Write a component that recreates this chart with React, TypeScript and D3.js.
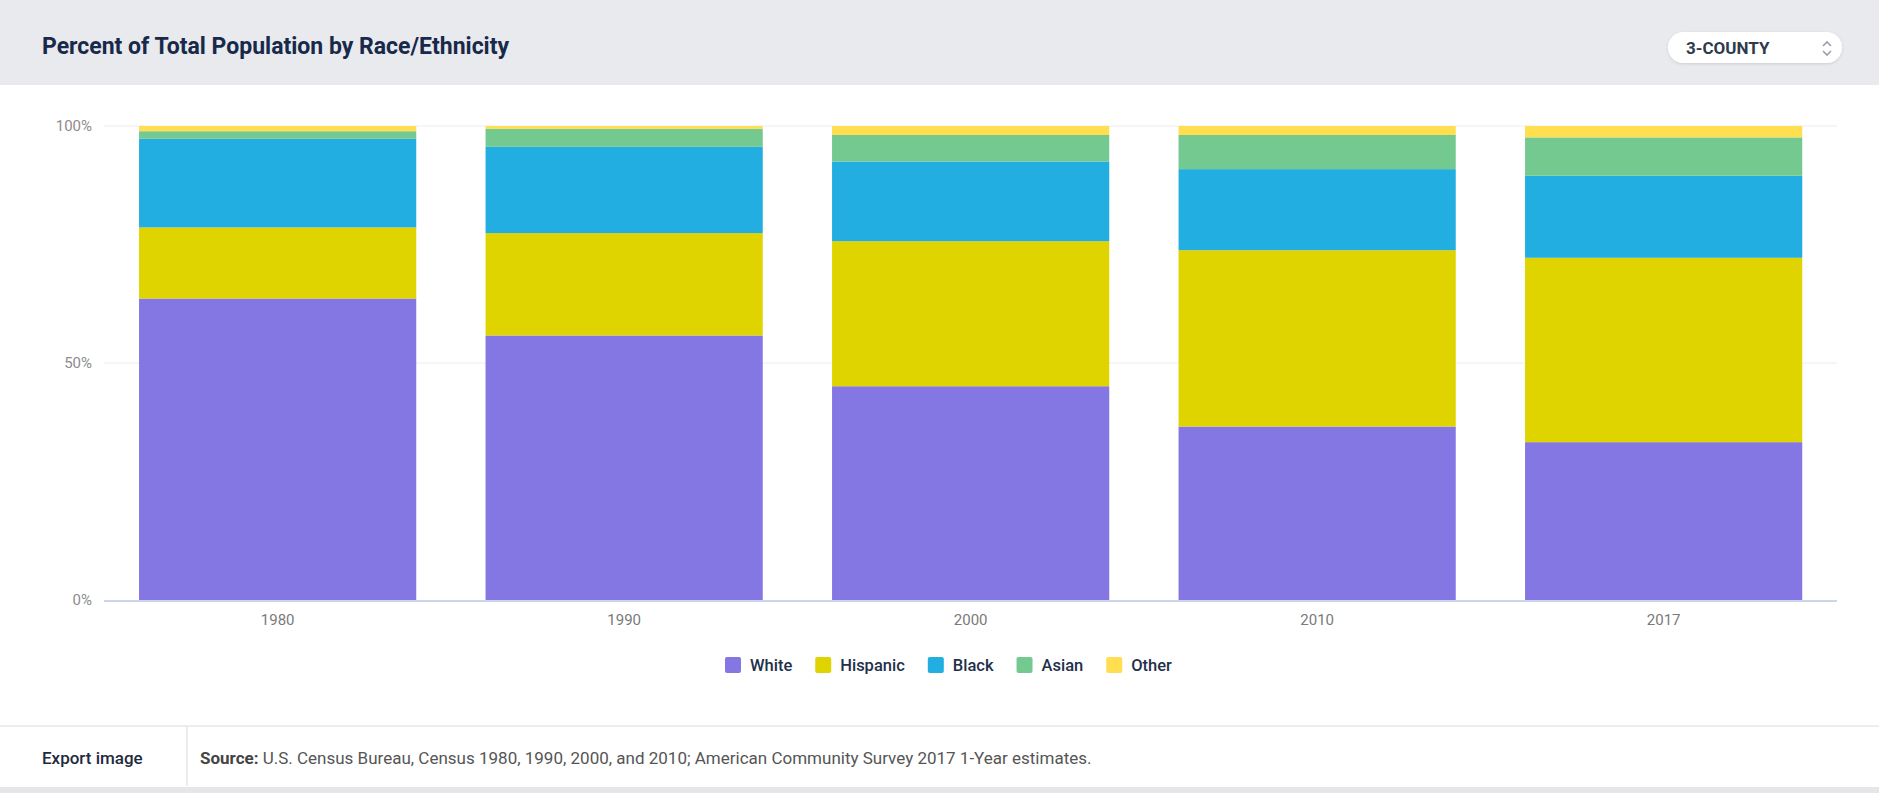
import React from 'react';
import * as d3 from 'd3';

const years = ['1980', '1990', '2000', '2010', '2017'];
const seriesNames = ['White', 'Hispanic', 'Black', 'Asian', 'Other'];
const white = [63.6, 55.8, 45.1, 36.6, 33.3];
const hispanic = [15.0, 21.6, 30.6, 37.2, 38.9];
const black = [18.7, 18.2, 16.8, 17.1, 17.3];
const asian = [1.6, 3.8, 5.6, 7.2, 8.1];
const other = [1.1, 0.6, 1.9, 1.9, 2.4];
const seriesColors = ['#8477e4', '#e0d400', '#22aee0', '#74c991', '#ffde4f'];
const yTicks = [0, 50, 100];
const yTickLabels = ['0%', '50%', '100%'];

const W = 1879;
const H = 793;
const FONT = 'Roboto, "Noto Sans", Arial, sans-serif';

function measure(text: string, font: string): number {
  if (typeof document === 'undefined') return text.length * 8;
  const c = document.createElement('canvas');
  const ctx = c.getContext('2d');
  if (!ctx) return text.length * 8;
  ctx.font = font;
  return ctx.measureText(text).width;
}

export default function App() {
  const rows = years.map((yr, i) => ({
    year: yr,
    White: white[i],
    Hispanic: hispanic[i],
    Black: black[i],
    Asian: asian[i],
    Other: other[i],
  }));
  const stack = d3.stack<any>().keys(seriesNames);
  const layers = stack(rows);

  const x = d3
    .scaleBand<string>()
    .domain(years)
    .range([104.4, 1836.9])
    .paddingInner(0.2)
    .paddingOuter(0.1);
  const y = d3.scaleLinear().domain([0, 100]).range([600, 126]);
  const color = d3.scaleOrdinal<string, string>().domain(seriesNames).range(seriesColors);

  // legend layout
  const legendSize = 16.5;
  const legendFont = `500 ${legendSize}px Roboto`;
  const sq = 16;
  const gapSqText = 9;
  const gapItems = 23;
  let lx = 725;
  const legendItems = seriesNames.map((name) => {
    const w = measure(name, legendFont);
    const item = { name, x: lx, w };
    lx += sq + gapSqText + w + gapItems;
    return item;
  });

  return (
    <svg
      width={W}
      height={H}
      style={{ position: 'fixed', left: 0, top: 0, background: '#fff' }}
      fontFamily={FONT}
    >
      {/* header */}
      <rect x={0} y={0} width={W} height={85} fill="#e9eaee" />
      <text x={42} y={54} fontSize={23} fontWeight={700} fill="#18294a">
        Percent of Total Population by Race/Ethnicity
      </text>
      <defs>
        <filter id="sh" x="-10%" y="-30%" width="120%" height="160%">
          <feDropShadow dx="0" dy="1" stdDeviation="1.5" floodColor="#000" floodOpacity="0.12" />
        </filter>
      </defs>
      <rect x={1668} y={32} width={174} height={31} rx={15.5} fill="#fff" filter="url(#sh)" />
      <text x={1686} y={54} fontSize={17} fontWeight={700} fill="#2f3a4d">
        3-COUNTY
      </text>
      <path d="M1823,46 L1827,42 L1831,46" fill="none" stroke="#9aa0a8" strokeWidth={1.6} />
      <path d="M1823,51 L1827,55 L1831,51" fill="none" stroke="#9aa0a8" strokeWidth={1.6} />

      {/* gridlines */}
      {yTicks.slice(1).map((t) => (
        <line key={t} x1={104} x2={1837} y1={y(t)} y2={y(t)} stroke="#ececec" strokeWidth={1} />
      ))}
      {/* y tick labels */}
      {yTicks.map((t, i) => (
        <text
          key={t}
          x={92}
          y={y(t) + 5}
          textAnchor="end"
          fontSize={15}
          fill="#8c8c8c"
        >
          {yTickLabels[i]}
        </text>
      ))}

      {/* bars */}
      {layers.map((layer) => (
        <g key={layer.key} fill={color(layer.key)}>
          {layer.map((d: any) => (
            <rect
              key={d.data.year}
              x={x(d.data.year)}
              width={x.bandwidth()}
              y={y(d[1])}
              height={y(d[0]) - y(d[1])}
            />
          ))}
        </g>
      ))}

      {/* x axis */}
      <line x1={104} x2={1837} y1={601} y2={601} stroke="#ccd6eb" strokeWidth={2} />
      {years.map((yr) => (
        <text
          key={yr}
          x={(x(yr) as number) + x.bandwidth() / 2}
          y={625}
          textAnchor="middle"
          fontSize={15}
          fill="#7a7a7a"
        >
          {yr}
        </text>
      ))}

      {/* legend */}
      {legendItems.map((it, i) => (
        <g key={it.name}>
          <rect x={it.x} y={657} width={sq} height={sq} rx={2} fill={seriesColors[i]} />
          <text x={it.x + sq + gapSqText} y={671} fontSize={legendSize} fontWeight={500} fill="#22304a">
            {it.name}
          </text>
        </g>
      ))}

      {/* footer */}
      <line x1={0} x2={W} y1={726} y2={726} stroke="#e6e7ea" strokeWidth={1.5} />
      <line x1={187} x2={187} y1={726} y2={786} stroke="#e6e7ea" strokeWidth={1.5} />
      <text x={42} y={764} fontSize={17} fontWeight={500} fill="#1e2a3d">
        Export image
      </text>
      <text x={200} y={764} fontSize={17} fill="#555">
        <tspan fontWeight={700} fill="#444">Source:</tspan>
        <tspan> U.S. Census Bureau, Census 1980, 1990, 2000, and 2010; American Community Survey 2017 1-Year estimates.</tspan>
      </text>
      <rect x={0} y={787} width={W} height={6} fill="#e4e6ea" />
    </svg>
  );
}
